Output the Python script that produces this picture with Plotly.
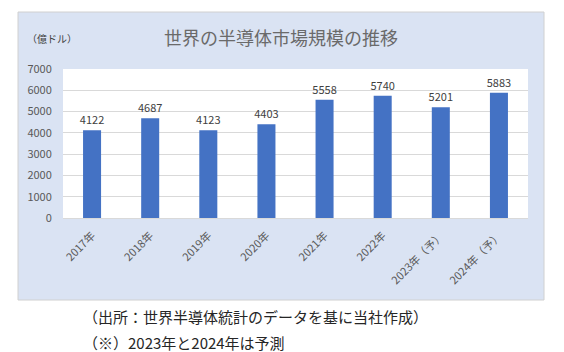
import plotly.graph_objects as go

categories = ["2017年", "2018年", "2019年", "2020年", "2021年", "2022年", "2023年（予）", "2024年（予）"]
values = [4122, 4687, 4123, 4403, 5558, 5740, 5201, 5883]
y_ticks = [0, 1000, 2000, 3000, 4000, 5000, 6000, 7000]

title_text = "世界の半導体市場規模の推移"
unit_text = "（億ドル）"
note1 = "（出所：世界半導体統計のデータを基に当社作成）"
note2 = "（※）2023年と2024年は予測"

FONT = "Noto Sans CJK JP"
W, H = 564, 352
L, R, T, B = 63, 36, 69, 134
pw, ph = W - L - R, H - T - B

def px(x):
    return (x - L) / pw

def py(y):
    return (H - B - y) / ph

fig = go.Figure(go.Bar(
    x=categories, y=values,
    marker=dict(color="#4472C4", line=dict(width=0)),
    width=0.31,
    text=[str(v) for v in values],
    textposition="outside",
    constraintext="none",
    textfont=dict(family=FONT, size=11, color="#404040"),
    cliponaxis=False,
))

fig.update_layout(
    width=W, height=H,
    margin=dict(l=L, r=R, t=T, b=B),
    paper_bgcolor="white",
    plot_bgcolor="white",
    showlegend=False,
    font=dict(family=FONT),
    shapes=[
        dict(type="rect", xref="paper", yref="paper", layer="below",
             x0=px(18), x1=px(544), y0=py(300), y1=py(12),
             fillcolor="#DAE3F3", line=dict(color="#D0D0D0", width=1)),
        dict(type="rect", xref="paper", yref="paper", layer="below",
             x0=0, x1=1, y0=0, y1=1,
             fillcolor="white", line=dict(width=0)),
    ],
    annotations=[
        dict(text=title_text, xref="paper", yref="paper", x=px(281), y=py(37),
             xanchor="center", yanchor="middle", showarrow=False,
             font=dict(family=FONT, size=18, color="#6A6A6A")),
        dict(text=unit_text, xref="paper", yref="paper", x=px(25), y=py(38),
             xanchor="left", yanchor="middle", showarrow=False,
             font=dict(family=FONT, size=10, color="#404040")),
        dict(text=note1, xref="paper", yref="paper", x=px(81), y=py(316),
             xanchor="left", yanchor="middle", showarrow=False,
             font=dict(family=FONT, size=15, color="#262626")),
        dict(text=note2, xref="paper", yref="paper", x=px(81), y=py(342),
             xanchor="left", yanchor="middle", showarrow=False,
             font=dict(family=FONT, size=15, color="#262626")),
    ],
)

fig.update_yaxes(
    range=[0, 7000], tickvals=y_ticks,
    showgrid=True, gridcolor="#D9D9D9", gridwidth=1,
    zeroline=False, showline=False,
    ticks="outside", ticklen=8, tickcolor="rgba(0,0,0,0)",
    tickfont=dict(family=FONT, size=11, color="#595959"),
)
fig.update_xaxes(
    tickangle=-45,
    showline=True, linecolor="#D9D9D9", linewidth=1,
    showgrid=False,
    ticks="outside", ticklen=6, tickcolor="rgba(0,0,0,0)",
    tickfont=dict(family=FONT, size=11, color="#595959"),
)

fig.write_html("out.html")
